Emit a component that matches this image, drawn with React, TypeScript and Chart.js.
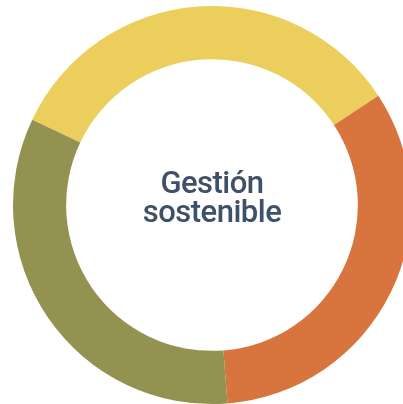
import React, { useEffect, useRef } from "react";
import { Chart, registerables } from "chart.js";

Chart.register(...registerables);

const categories: string[] = ["A", "B", "C"];
const values: number[] = [33.7, 33.0, 33.3];
const colors: string[] = ["#EBCE5B", "#D8753F", "#939250"];
const centerLines: string[] = ["Gestión", "sostenible"];

export default function App() {
  const ref = useRef<HTMLCanvasElement | null>(null);
  useEffect(() => {
    if (!ref.current) return;
    const chart = new Chart(ref.current, {
      type: "doughnut",
      data: {
        labels: categories,
        datasets: [
          {
            data: values,
            backgroundColor: colors,
            borderWidth: 0,
          },
        ],
      },
      options: {
        animation: false,
        responsive: false,
        maintainAspectRatio: false,
        rotation: -64.6,
        cutout: "73.3%",
        layout: { padding: 6 },
        plugins: {
          legend: { display: false },
          tooltip: { enabled: false },
        },
      },
    });
    return () => chart.destroy();
  }, []);

  return (
    <div
      style={{
        position: "fixed",
        left: 0,
        top: 0,
        width: 403,
        height: 404,
        overflow: "hidden",
        background: "#fff",
      }}
    >
      <canvas ref={ref} width={424} height={410} style={{ position: "absolute", left: 0, top: 0, width: 424, height: 410 }} />
      <div
        style={{
          position: "absolute",
          left: 112,
          width: 200,
          top: 168,
          textAlign: "center",
          fontFamily: "Roboto, sans-serif",
          fontWeight: 500,
          fontSize: 31,
          letterSpacing: "-0.5px",
          lineHeight: "29px",
          color: "#3F5069",
        }}
      >
        {centerLines.map((l, i) => (
          <div key={i}>{l}</div>
        ))}
      </div>
    </div>
  );
}
